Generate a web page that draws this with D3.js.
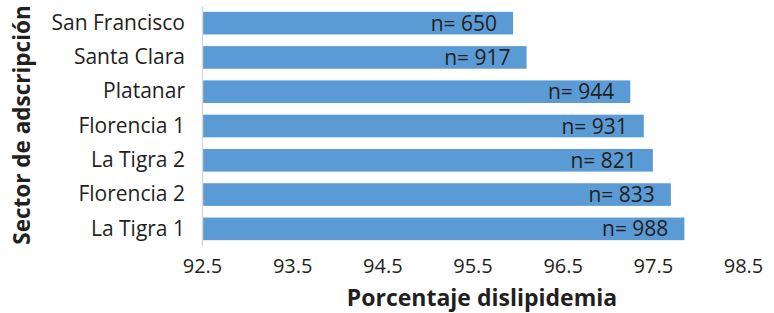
<!DOCTYPE html>
<html>
<head>
<meta charset="utf-8">
<script src="https://cdn.jsdelivr.net/npm/d3@7"></script>
<style>
  html, body { margin: 0; padding: 0; background: #fff; }
  svg { display: block; font-family: "Open Sans", sans-serif; }
</style>
</head>
<body>
<script>
// Chart data, top to bottom as drawn
const sectors = ["San Francisco", "Santa Clara", "Platanar", "Florencia 1", "La Tigra 2", "Florencia 2", "La Tigra 1"];
const percentages = [95.95, 96.1, 97.25, 97.4, 97.5, 97.7, 97.85];
const counts = [650, 917, 944, 931, 821, 833, 988];
const ticks = [92.5, 93.5, 94.5, 95.5, 96.5, 97.5, 98.5];

const w = 774;
const h = 313;
const rows = sectors.map((s, i) => ({ sector: s, pct: percentages[i], n: counts[i] }));

const svg = d3.select("body")
  .append("svg")
  .attr("width", w)
  .attr("height", h)
  .attr("viewBox", [0, 0, w, h]);

const x_scale = d3.scaleLinear()
  .domain([92.5, 98.5])
  .range([202, 743]);

const y_scale = d3.scaleBand()
  .domain(sectors)
  .range([6, 246])
  .paddingInner(0.34)
  .paddingOuter(0.17);

// bars
svg.append("g")
  .selectAll("rect")
  .data(rows)
  .join("rect")
  .attr("x", x_scale(92.5))
  .attr("y", d => y_scale(d.sector))
  .attr("width", d => x_scale(d.pct) - x_scale(92.5))
  .attr("height", y_scale.bandwidth())
  .attr("fill", "#5b9bd5");

// n labels inside bar ends
svg.append("g")
  .selectAll("text")
  .data(rows)
  .join("text")
  .attr("x", d => x_scale(d.pct) - 16)
  .attr("y", d => y_scale(d.sector) + y_scale.bandwidth() / 2)
  .attr("dy", "0.36em")
  .attr("text-anchor", "end")
  .attr("font-size", 21)
  .attr("fill", "#231f20")
  .text(d => "n= " + d.n);

// y axis: line + category labels
const y_axis = svg.append("g")
  .attr("transform", `translate(${x_scale(92.5)},0)`)
  .call(d3.axisLeft(y_scale).tickSize(0).tickPadding(17));
y_axis.select("path.domain").attr("stroke", "#d9d9d9").attr("stroke-width", 1.5);
y_axis.selectAll("text")
  .attr("font-size", 21)
  .attr("font-family", "Open Sans, sans-serif")
  .attr("fill", "#231f20");

// x axis: labels only
const x_axis = svg.append("g")
  .attr("transform", `translate(0,246)`)
  .call(d3.axisBottom(x_scale).tickValues(ticks).tickFormat(d3.format(".1f")).tickSize(0).tickPadding(13));
x_axis.select("path.domain").remove();
x_axis.selectAll("text")
  .attr("font-size", 20)
  .attr("font-family", "Open Sans, sans-serif")
  .attr("fill", "#231f20");

// axis titles
svg.append("text")
  .attr("x", 482)
  .attr("y", 306)
  .attr("text-anchor", "middle")
  .attr("font-size", 23)
  .attr("font-weight", "bold")
  .attr("fill", "#231f20")
  .text("Porcentaje dislipidemia");

svg.append("text")
  .attr("transform", "translate(30,125) rotate(-90)")
  .attr("text-anchor", "middle")
  .attr("font-size", 22.5)
  .attr("font-weight", "bold")
  .attr("fill", "#231f20")
  .text("Sector de adscripción");
</script>
</body>
</html>
